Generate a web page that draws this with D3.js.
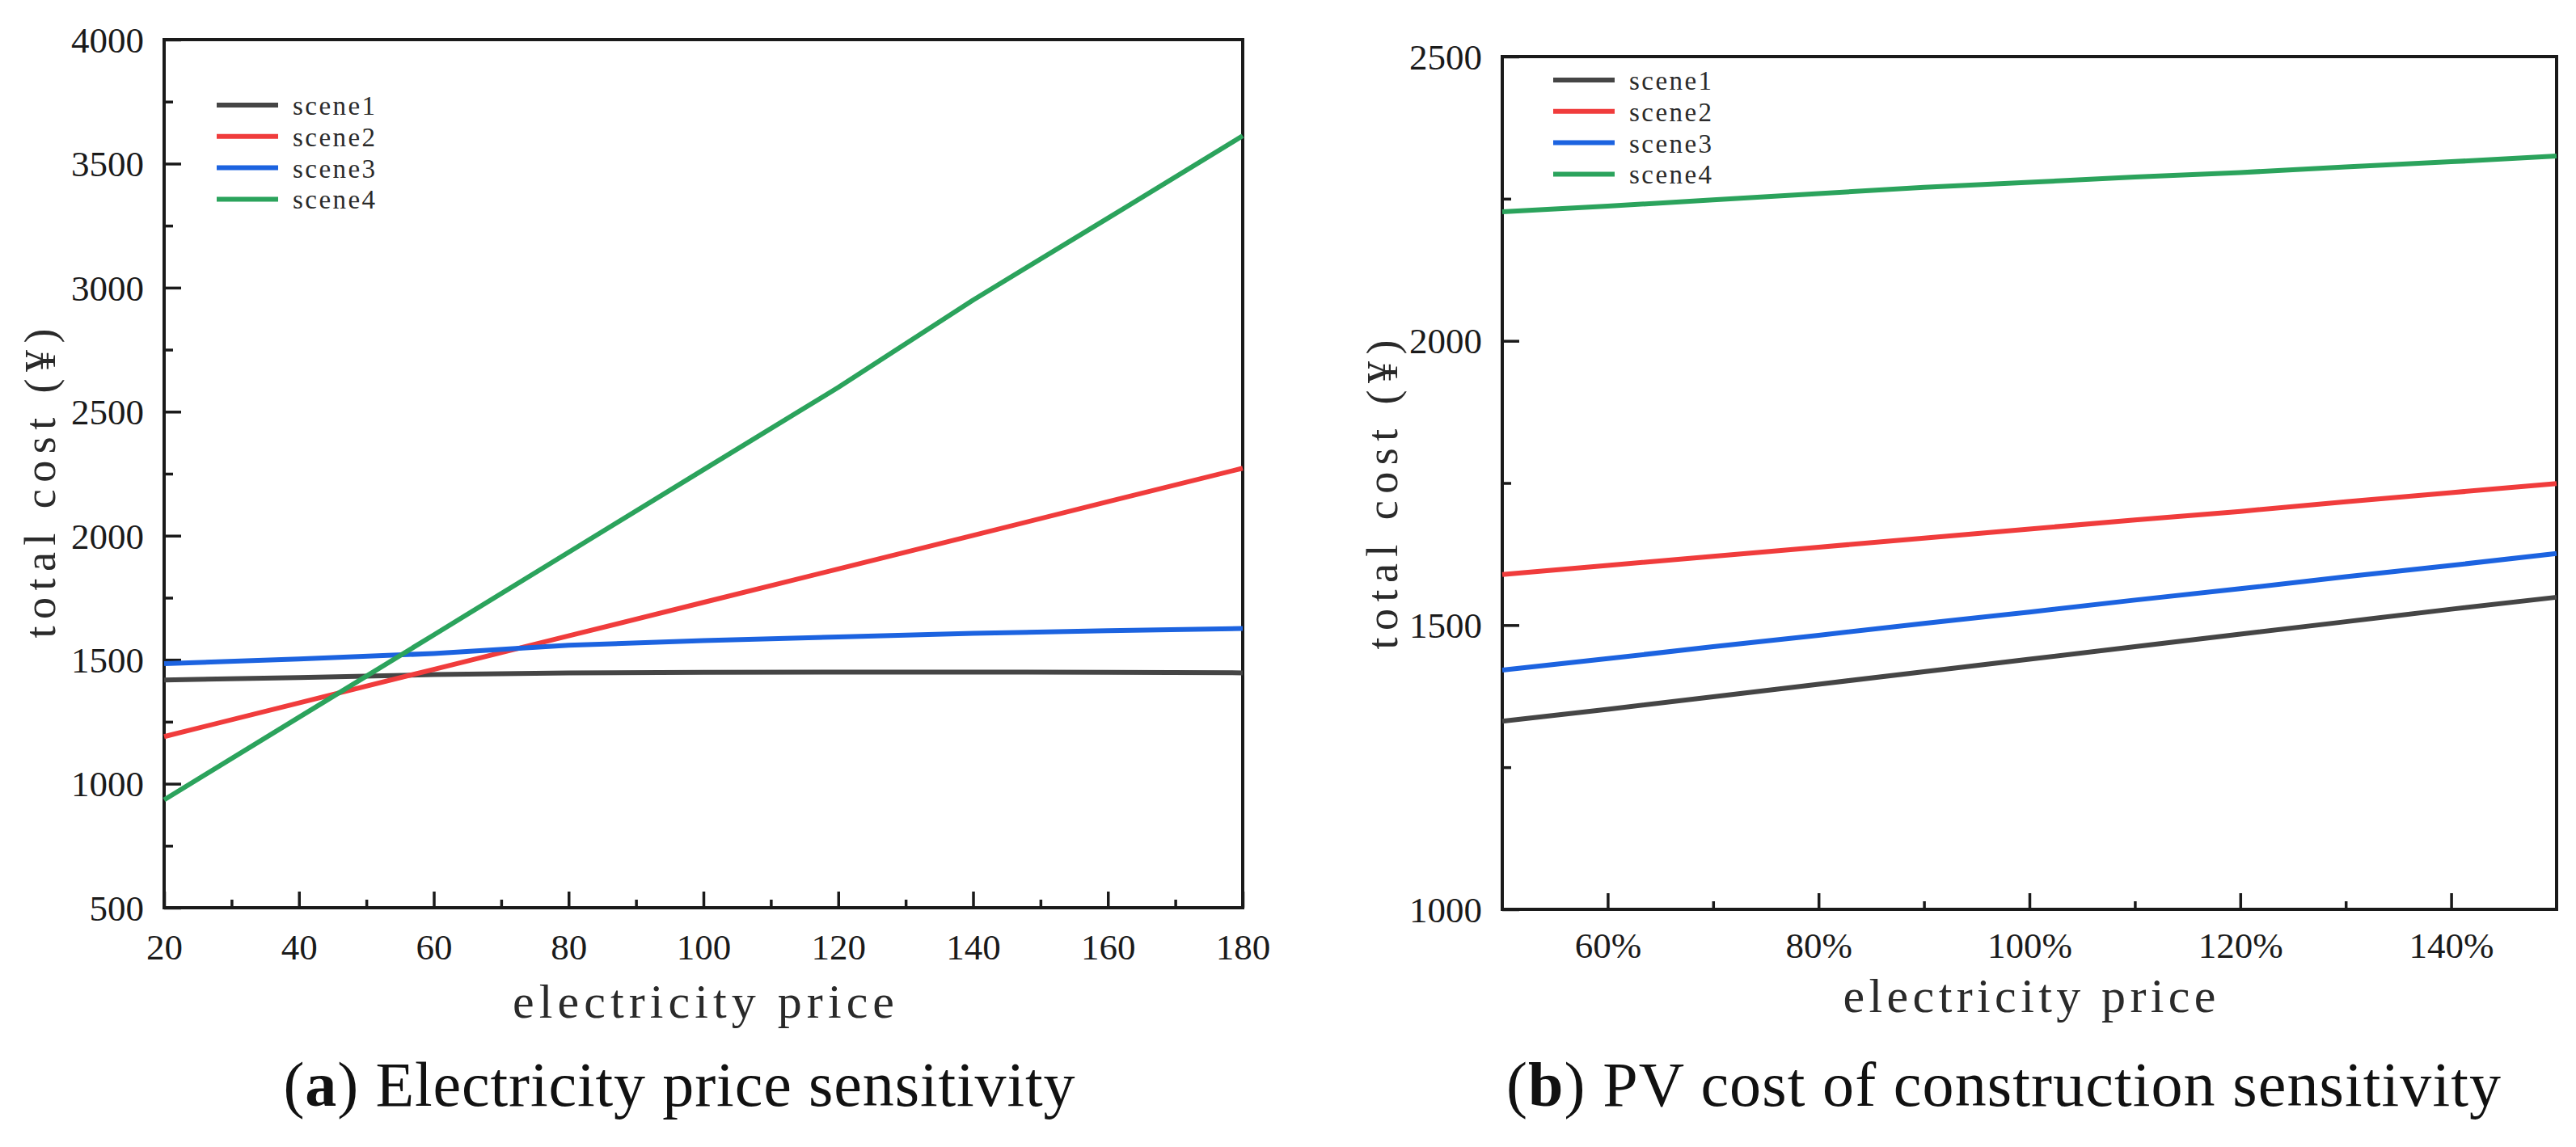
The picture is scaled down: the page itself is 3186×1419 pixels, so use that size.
<!DOCTYPE html>
<html>
<head>
<meta charset="utf-8">
<script src="https://cdn.jsdelivr.net/npm/d3@7"></script>
<style>
  html, body { margin: 0; padding: 0; background: #fff; }
  svg { display: block; }
</style>
</head>
<body>
<div id="chart"></div>
<script>
// ---- data ----
var sceneNames = ["scene1", "scene2", "scene3", "scene4"];
var sceneColors = ["#454545", "#f03c3c", "#1c63e0", "#2ba35c"];

// (a) electricity price sensitivity
var priceX = [20, 40, 60, 80, 100, 120, 140, 160, 180];
var priceScene1 = [1418, 1428, 1440, 1447, 1449, 1450, 1450, 1449, 1447];
var priceScene2 = [1190, 1326, 1461, 1596, 1731, 1866, 2001, 2137, 2272];
var priceScene3 = [1484, 1503, 1525, 1558, 1577, 1592, 1606, 1617, 1626];
var priceScene4 = [935, 1268, 1600, 1933, 2266, 2598, 2950, 3280, 3612];
var priceXTicks = [20, 40, 60, 80, 100, 120, 140, 160, 180];
var priceXMinor = [30, 50, 70, 90, 110, 130, 150, 170];
var priceYTicks = [500, 1000, 1500, 2000, 2500, 3000, 3500, 4000];
var priceYMinor = [750, 1250, 1750, 2250, 2750, 3250, 3750];

// (b) PV construction cost sensitivity (percent of base cost)
var pvX = [50, 60, 70, 80, 90, 100, 110, 120, 130, 140, 150];
var pvScene1 = [1331, 1352, 1374, 1396, 1418, 1440, 1462, 1484, 1506, 1528, 1549];
var pvScene2 = [1589, 1605, 1621, 1637, 1653, 1669, 1685, 1700, 1717, 1733, 1749];
var pvScene3 = [1421, 1441, 1462, 1482, 1503, 1523, 1544, 1564, 1585, 1605, 1626];
var pvScene4 = [2227, 2237, 2248, 2259, 2270, 2279, 2288, 2296, 2306, 2315, 2325];
var pvXTicks = [60, 80, 100, 120, 140];
var pvXMinor = [70, 90, 110, 130];
var pvYTicks = [1000, 1500, 2000, 2500];
var pvYMinor = [1250, 1750, 2250];

var xTitle = "electricity price";
var yTitle = "total cost (\u00a5)";

(function () {
  "use strict";

  var W = 3186, H = 1419;
  var SERIF = "'Liberation Serif', 'Times New Roman', serif";

  var svg = d3.select("#chart").append("svg")
    .attr("width", W)
    .attr("height", H)
    .attr("viewBox", [0, 0, W, H]);

  var panels = [
    {
      box: { left: 203, right: 1537, top: 49, bottom: 1123 },
      xs: priceX,
      series: [priceScene1, priceScene2, priceScene3, priceScene4],
      xDomain: [20, 180], yDomain: [500, 4000],
      xTicks: priceXTicks, xMinor: priceXMinor,
      yTicks: priceYTicks, yMinor: priceYMinor,
      xFormat: function (d) { return String(d); },
      xPad: 32,
      legend: { dx: 65, dy: 81 },
      yTitle: { x: 68, y: 598 },
      xTitle: { y: 1259, w: 472 },
      caption: { bold: "a", rest: " Electricity price sensitivity", x: 840, w: 979 }
    },
    {
      box: { left: 1858, right: 3162, top: 70, bottom: 1125 },
      xs: pvX,
      series: [pvScene1, pvScene2, pvScene3, pvScene4],
      xDomain: [50, 150], yDomain: [1000, 2500],
      xTicks: pvXTicks, xMinor: pvXMinor,
      yTicks: pvYTicks, yMinor: pvYMinor,
      xFormat: function (d) { return d + "%"; },
      xPad: 28,
      legend: { dx: 63, dy: 29 },
      yTitle: { x: 1728, y: 612 },
      xTitle: { y: 1252, w: 461 },
      caption: { bold: "b", rest: " PV cost of construction sensitivity", x: 2478, w: 1230 }
    }
  ];

  panels.forEach(drawPanel);

  function drawPanel(p) {
    var b = p.box;
    var x = d3.scaleLinear().domain(p.xDomain).range([b.left, b.right]);
    var y = d3.scaleLinear().domain(p.yDomain).range([b.bottom, b.top]);
    var g = svg.append("g");

    // minor ticks (inward, no labels)
    g.append("g")
      .attr("transform", "translate(0," + b.bottom + ")")
      .call(d3.axisBottom(x).tickValues(p.xMinor).tickSize(-10).tickFormat(""))
      .call(styleAxis);
    g.append("g")
      .attr("transform", "translate(" + b.left + ",0)")
      .call(d3.axisLeft(y).tickValues(p.yMinor).tickSize(-11).tickFormat(""))
      .call(styleAxis);

    // major ticks
    g.append("g")
      .attr("transform", "translate(0," + b.bottom + ")")
      .call(d3.axisBottom(x).tickValues(p.xTicks).tickSize(-20).tickPadding(p.xPad).tickFormat(p.xFormat))
      .call(styleAxis);
    g.append("g")
      .attr("transform", "translate(" + b.left + ",0)")
      .call(d3.axisLeft(y).tickValues(p.yTicks).tickSize(-21).tickPadding(25).tickFormat(d3.format("d")))
      .call(styleAxis)
      .selectAll("text").attr("dy", "0.34em");

    // frame
    g.append("rect")
      .attr("x", b.left).attr("y", b.top)
      .attr("width", b.right - b.left).attr("height", b.bottom - b.top)
      .attr("fill", "none")
      .attr("stroke", "#1a1a1a")
      .attr("stroke-width", 4);

    // series
    var line = d3.line()
      .x(function (d) { return x(d[0]); })
      .y(function (d) { return y(d[1]); });

    p.series.forEach(function (vals, i) {
      var pts = p.xs.map(function (xv, k) { return [xv, vals[k]]; });
      g.append("path")
        .datum(pts)
        .attr("d", line)
        .attr("fill", "none")
        .attr("stroke", sceneColors[i])
        .attr("stroke-width", 6)
        .attr("stroke-linejoin", "round");
    });

    // legend
    var lg = g.append("g")
      .attr("transform", "translate(" + (b.left + p.legend.dx) + "," + (b.top + p.legend.dy) + ")");
    sceneNames.forEach(function (name, i) {
      var row = lg.append("g").attr("transform", "translate(0," + (i * 38.8) + ")");
      row.append("line")
        .attr("x1", 0).attr("x2", 76)
        .attr("y1", 0).attr("y2", 0)
        .attr("stroke", sceneColors[i])
        .attr("stroke-width", 6);
      row.append("text")
        .attr("x", 94).attr("y", 12)
        .attr("font-family", SERIF)
        .attr("font-size", 33)
        .attr("fill", "#2a2a2a")
        .attr("textLength", 102)
        .attr("lengthAdjust", "spacing")
        .text(name);
    });

    // axis titles (spaced out like the monospaced original)
    g.append("text")
      .attr("x", (b.left + b.right) / 2)
      .attr("y", p.xTitle.y)
      .attr("text-anchor", "middle")
      .attr("font-family", SERIF)
      .attr("font-size", 60)
      .attr("fill", "#2a2a2a")
      .attr("textLength", p.xTitle.w)
      .attr("lengthAdjust", "spacing")
      .text(xTitle);

    g.append("text")
      .attr("transform", "translate(" + p.yTitle.x + "," + p.yTitle.y + ") rotate(-90)")
      .attr("text-anchor", "middle")
      .attr("font-family", SERIF)
      .attr("font-size", 54)
      .attr("fill", "#2a2a2a")
      .attr("textLength", 383)
      .attr("lengthAdjust", "spacing")
      .text(yTitle);

    // caption
    var cap = svg.append("text")
      .attr("x", p.caption.x)
      .attr("y", 1368)
      .attr("text-anchor", "middle")
      .attr("font-family", SERIF)
      .attr("font-size", 78)
      .attr("fill", "#111")
      .attr("textLength", p.caption.w)
      .attr("lengthAdjust", "spacing");
    cap.append("tspan").text("(");
    cap.append("tspan").attr("font-weight", "bold").text(p.caption.bold);
    cap.append("tspan").text(")" + p.caption.rest);
  }

  function styleAxis(sel) {
    sel.select(".domain").remove();
    sel.attr("font-family", SERIF);
    sel.selectAll(".tick line")
      .attr("stroke", "#1a1a1a")
      .attr("stroke-width", 3.5);
    sel.selectAll(".tick text")
      .attr("font-family", SERIF)
      .attr("font-size", 45)
      .attr("fill", "#1a1a1a");
  }
})();
</script>
</body>
</html>
